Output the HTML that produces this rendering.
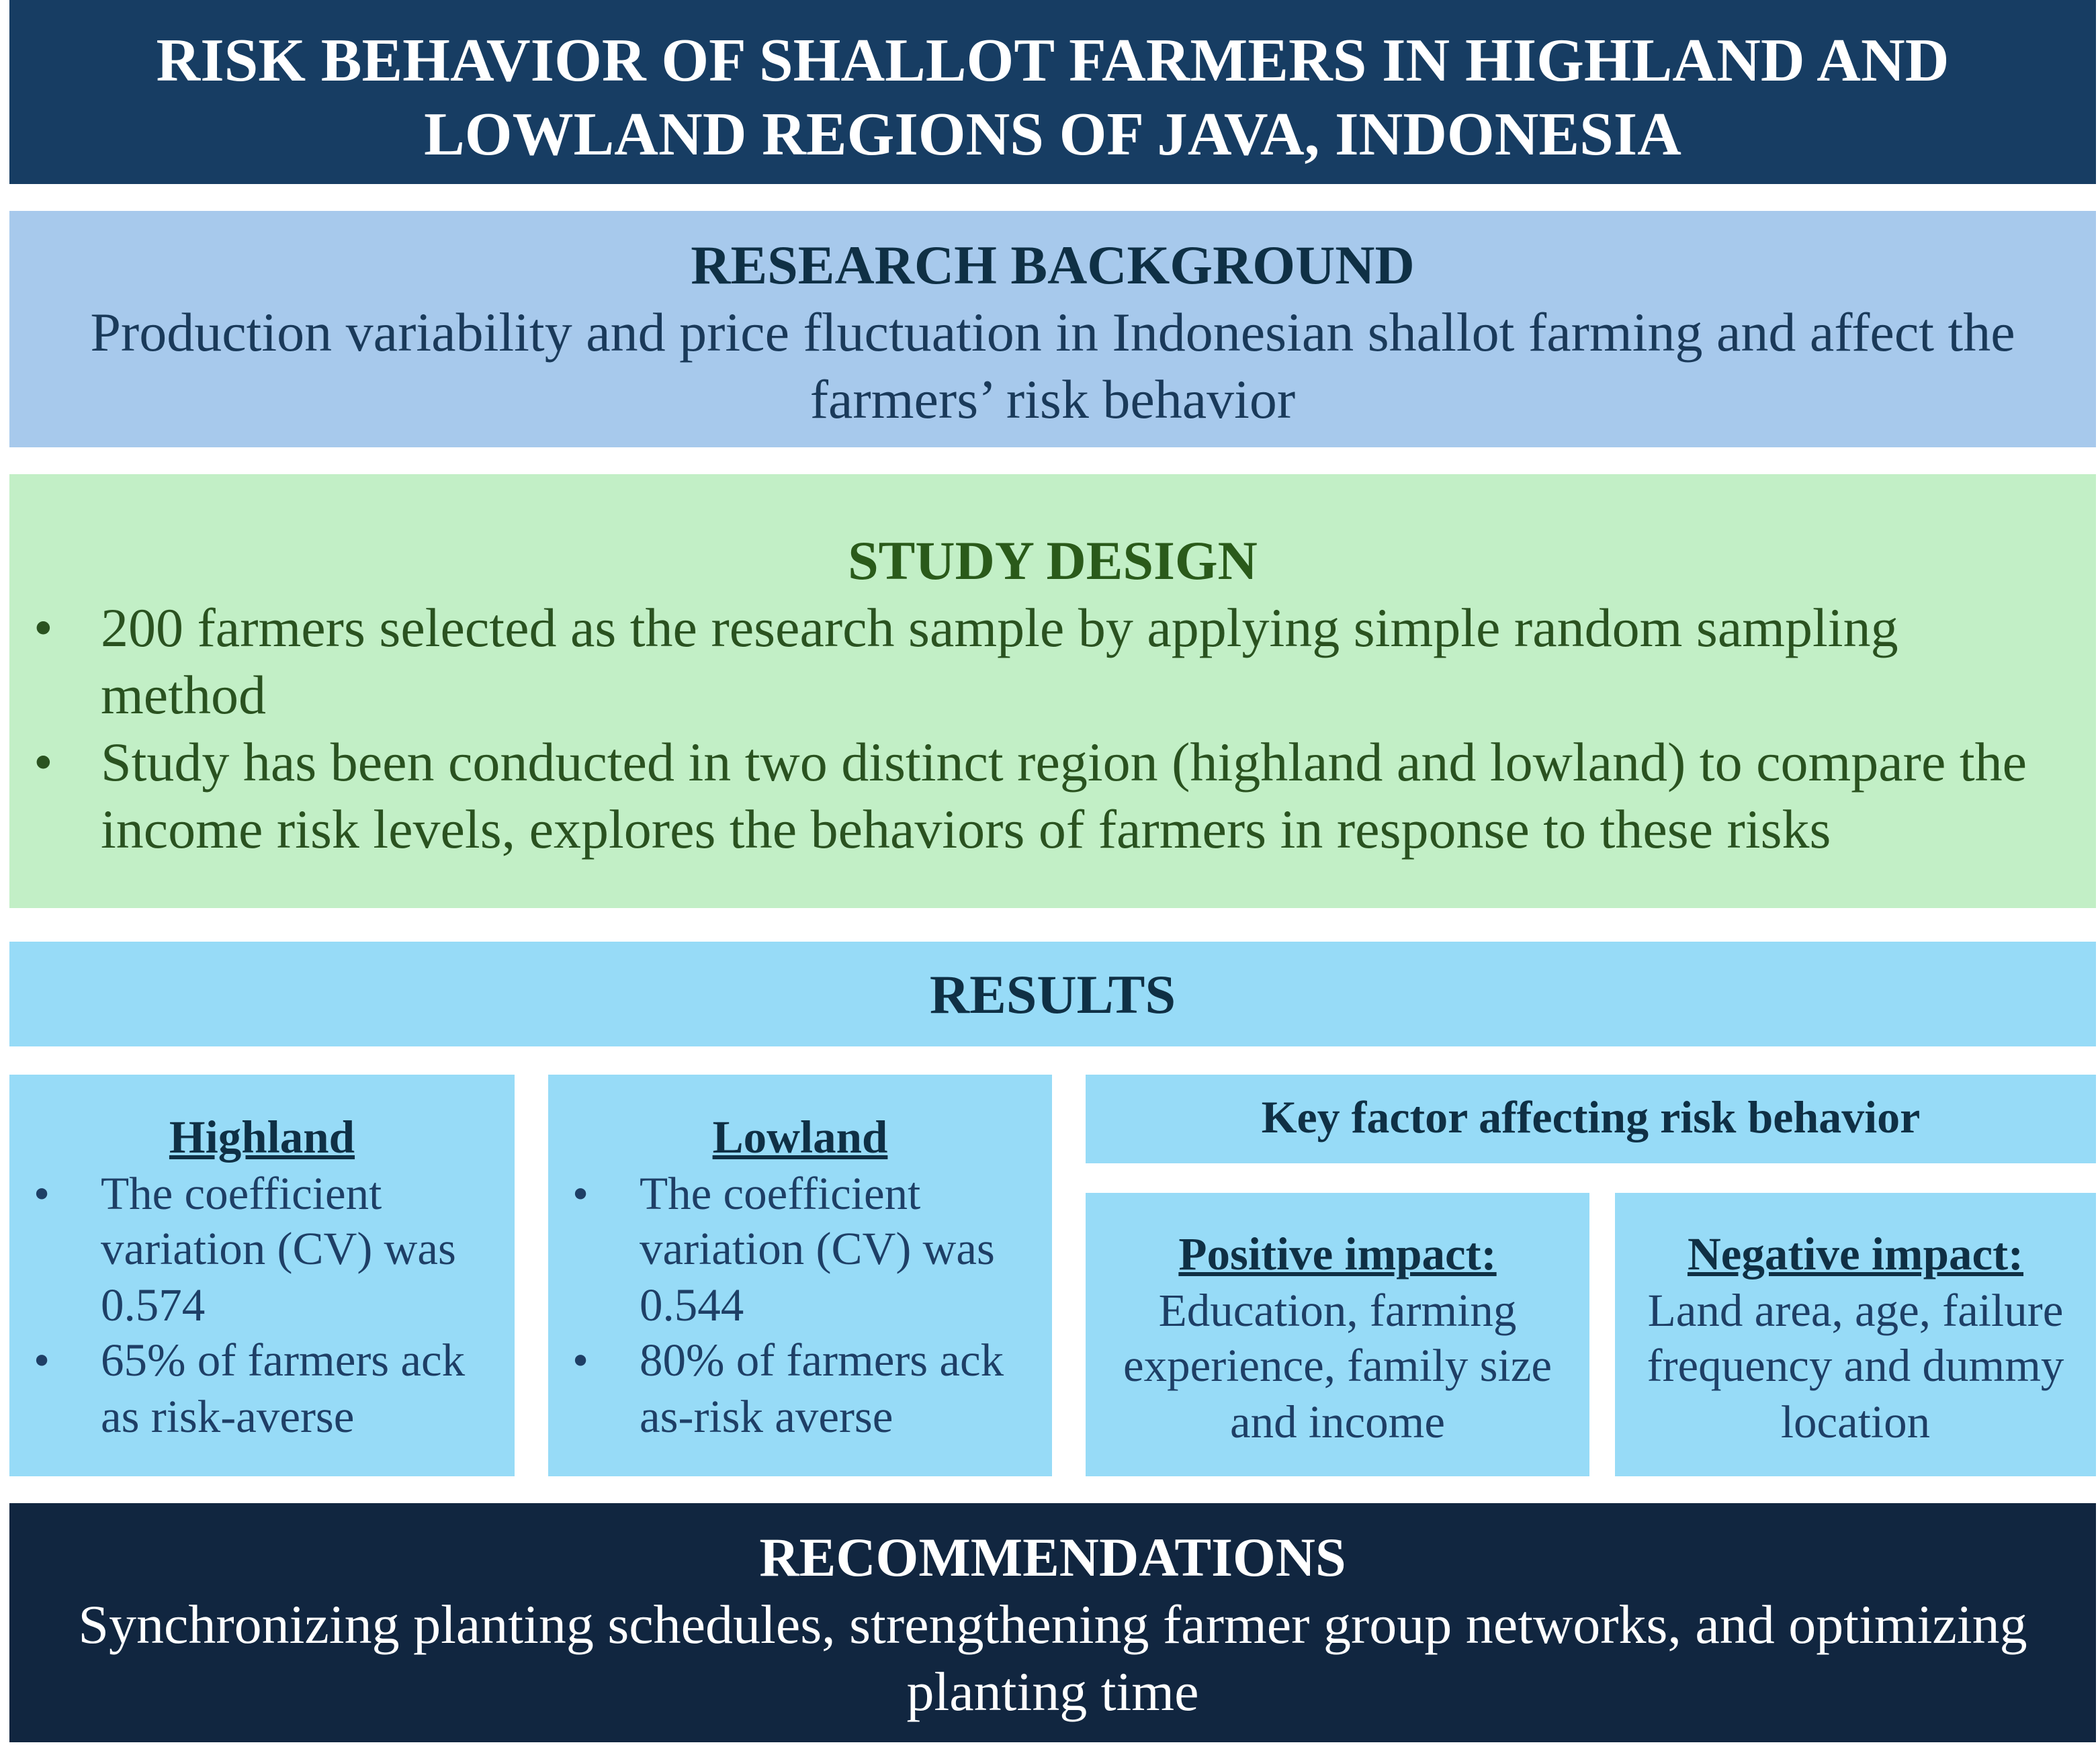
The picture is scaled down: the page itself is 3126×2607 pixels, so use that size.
<!DOCTYPE html>
<html><head><meta charset="utf-8"><style>
html,body{margin:0;padding:0;background:#fff;}
body{width:3126px;height:2607px;overflow:hidden;}
#wrap{position:absolute;left:0;top:0;width:1563px;height:1303.5px;transform:scale(2);transform-origin:0 0;font-family:"Liberation Serif",serif;}
.box{position:absolute;box-sizing:border-box;}
.c{text-align:center;}
p{margin:0;}
.b{font-weight:bold;}
ul{margin:0;padding:0;list-style:none;}
li{position:relative;}
.bul{position:absolute;left:-50px;}
</style></head><body>
<div id="wrap">
<div class="box c" style="left:7px;top:0;width:1553px;height:137px;background:#173d63;color:#fff;font-weight:bold;font-size:45.5px;line-height:55px;padding-top:17px;white-space:nowrap;">
<p>RISK BEHAVIOR OF SHALLOT FARMERS IN HIGHLAND AND<br>LOWLAND REGIONS OF JAVA, INDONESIA</p></div>

<div class="box c" style="left:7px;top:157px;width:1553px;height:176px;background:#a7c9ec;color:#1a3a5a;font-size:41px;line-height:50px;padding-top:15px;white-space:nowrap;">
<p class="b" style="color:#0f3045;">RESEARCH BACKGROUND</p>
<p>Production variability and price fluctuation in Indonesian shallot farming and affect the<br>farmers’ risk behavior</p></div>

<div class="box" style="left:7px;top:353px;width:1553px;height:323px;background:#c2efc6;color:#2a5220;font-size:41px;line-height:50px;padding-top:39px;white-space:nowrap;">
<p class="b c" style="color:#2a5a1a;">STUDY DESIGN</p>
<ul style="padding-left:68px;">
<li><span class="bul" style="left:-50px;">•</span>200 farmers selected as the research sample by applying simple random sampling<br>method</li>
<li><span class="bul">•</span>Study has been conducted in two distinct region (highland and lowland) to compare the<br>income risk levels, explores the behaviors of farmers in response to these risks</li>
</ul></div>

<div class="box c b" style="left:7px;top:701px;width:1553px;height:78px;background:#97dbf7;color:#0f3045;font-size:41px;line-height:78px;">RESULTS</div>

<div class="box" style="left:7px;top:800px;width:376px;height:299px;background:#97dbf7;color:#1e3f66;font-size:34.5px;line-height:41.6px;padding-top:27px;white-space:nowrap;">
<p class="b c" style="color:#0f3045;text-decoration:underline;">Highland</p>
<div style="padding-left:68px;">
<p style="position:relative"><span class="bul">•</span>The coefficient<br>variation (CV) was<br>0.574</p>
<p style="position:relative"><span class="bul">•</span>65% of farmers ack<br>as risk-averse</p></div></div>

<div class="box" style="left:408px;top:800px;width:375px;height:299px;background:#97dbf7;color:#1e3f66;font-size:34.5px;line-height:41.6px;padding-top:27px;white-space:nowrap;">
<p class="b c" style="color:#0f3045;text-decoration:underline;">Lowland</p>
<div style="padding-left:68px;">
<p style="position:relative"><span class="bul">•</span>The coefficient<br>variation (CV) was<br>0.544</p>
<p style="position:relative"><span class="bul">•</span>80% of farmers ack<br>as-risk averse</p></div></div>

<div class="box c b" style="left:808px;top:800px;width:752px;height:66px;background:#97dbf7;color:#0f3045;font-size:34px;line-height:66px;">Key factor affecting risk behavior</div>

<div class="box c" style="left:808px;top:888px;width:375px;height:211px;background:#97dbf7;color:#1e3f66;font-size:34.5px;line-height:41.6px;padding-top:26px;white-space:nowrap;">
<p class="b" style="color:#0f3045;text-decoration:underline;">Positive impact:</p>
<p>Education, farming<br>experience, family size<br>and income</p></div>

<div class="box c" style="left:1202px;top:888px;width:358px;height:211px;background:#97dbf7;color:#1e3f66;font-size:34.5px;line-height:41.6px;padding-top:26px;white-space:nowrap;">
<p class="b" style="color:#0f3045;text-decoration:underline;">Negative impact:</p>
<p>Land area, age, failure<br>frequency and dummy<br>location</p></div>

<div class="box c" style="left:7px;top:1119px;width:1553px;height:178px;background:#112640;color:#fff;font-size:41px;line-height:50px;padding-top:15px;white-space:nowrap;">
<p class="b">RECOMMENDATIONS</p>
<p>Synchronizing planting schedules, strengthening farmer group networks, and optimizing<br>planting time</p></div>
</div>
</body></html>
